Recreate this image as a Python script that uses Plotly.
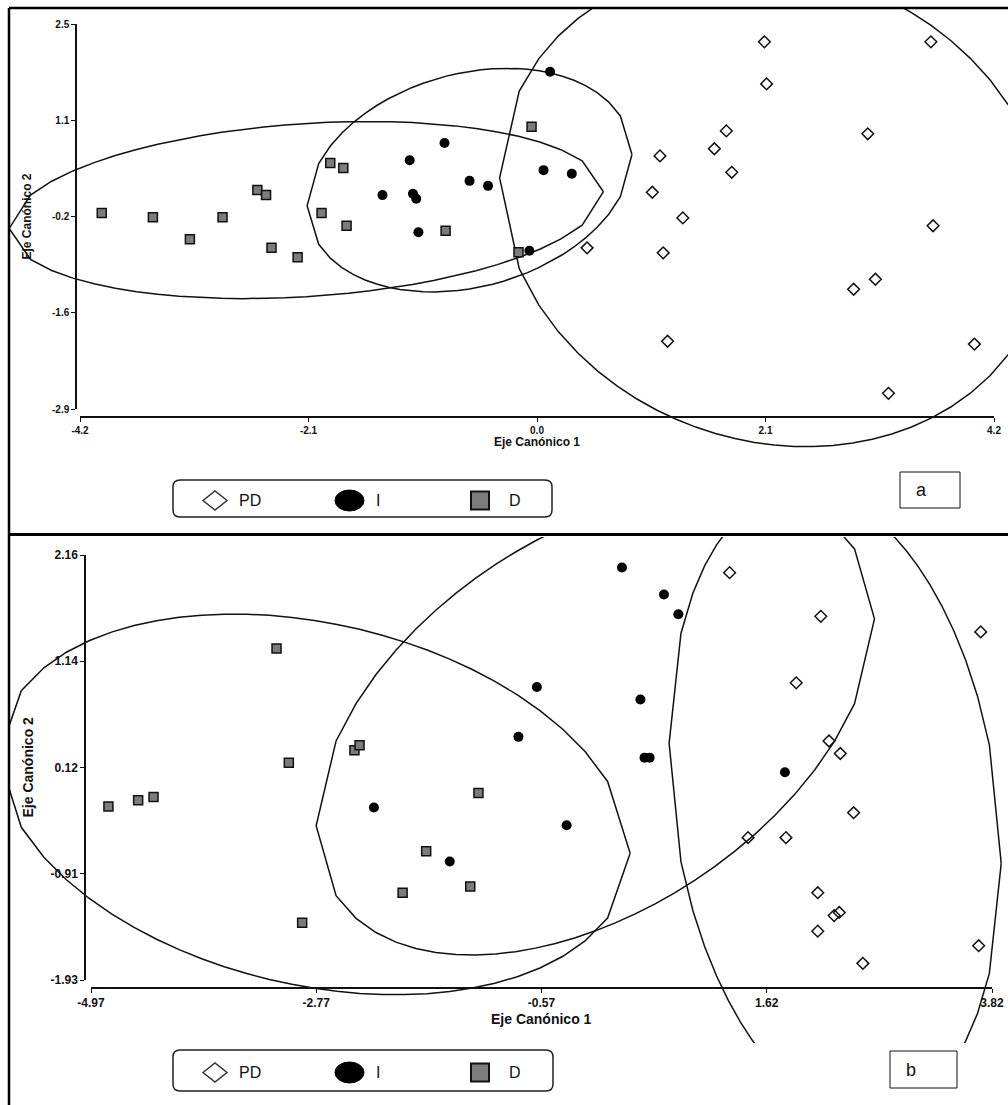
import numpy as np
import plotly.graph_objects as go

FIG_W, FIG_H = 1008, 1105
FONT = "Liberation Sans, Arial, sans-serif"
INK = "#111111"

GROUPS = ["PD", "I", "D"]
AXIS_TITLE_X = "Eje Canónico 1"
AXIS_TITLE_Y = "Eje Canónico 2"
PANEL_TAGS = ["a", "b"]

# ---------------- panel a: canonical scores ----------------
A_PD_X = [2.09, 3.62, 2.11, 1.74, 1.63, 1.13, 1.79, 3.04, 1.06, 1.34, 3.64, 0.46, 1.16, 3.11, 2.91, 1.20, 4.02, 3.23]
A_PD_Y = [2.25, 2.25, 1.66, 1.00, 0.75, 0.65, 0.42, 0.96, 0.14, -0.22, -0.33, -0.64, -0.71, -1.08, -1.22, -1.95, -1.99, -2.68]
A_I_X = [0.12, -0.85, -1.17, -1.42, -1.14, -1.11, -0.62, -0.45, -1.09, 0.06, 0.32, -0.07]
A_I_Y = [1.83, 0.83, 0.59, 0.10, 0.12, 0.05, 0.30, 0.23, -0.42, 0.45, 0.40, -0.68]
A_D_X = [-4.00, -3.53, -3.19, -2.89, -2.57, -2.49, -2.44, -2.20, -1.98, -1.90, -1.78, -1.75, -0.84, -0.05, -0.17]
A_D_Y = [-0.15, -0.21, -0.52, -0.21, 0.17, 0.10, -0.64, -0.77, -0.15, 0.55, 0.48, -0.33, -0.40, 1.06, -0.70]

# group ellipses: centre x, centre y, then two conjugate semi-diameters (dx1, dy1, dx2, dy2)
A_ELL_PD = [2.18, -0.05, 2.40, -1.41, -0.78, -3.07]
A_ELL_I = [-0.62, 0.31, 1.47, 0.62, 0.26, -1.44]
A_ELL_D = [-2.12, -0.11, 2.73, 0.28, 0.05, -1.21]

A_XTICKS = [-4.2, -2.1, 0.0, 2.1, 4.2]
A_XTICK_TEXT = ["-4.2", "-2.1", "0.0", "2.1", "4.2"]
A_YTICKS = [-2.9, -1.55, -0.2, 1.15, 2.5]
A_YTICK_TEXT = ["-2.9", "-1.6", "-0.2", "1.1", "2.5"]

# ---------------- panel b: canonical scores ----------------
B_PD_X = [1.26, 2.15, 1.91, 2.23, 2.34, 3.71, 2.47, 1.44, 1.81, 2.12, 2.28, 2.33, 2.12, 2.56, 3.69]
B_PD_Y = [1.99, 1.57, 0.93, 0.37, 0.25, 1.42, -0.32, -0.56, -0.56, -1.09, -1.31, -1.28, -1.46, -1.77, -1.60]
B_I_X = [0.21, 0.62, 0.76, -0.62, -0.80, 0.39, 0.43, 0.48, -2.21, -0.33, -1.47, 1.80]
B_I_Y = [2.04, 1.78, 1.59, 0.89, 0.41, 0.77, 0.21, 0.21, -0.27, -0.44, -0.79, 0.07]
B_D_X = [-3.16, -3.04, -4.80, -4.51, -4.36, -2.40, -2.35, -1.19, -1.70, -1.93, -1.27, -2.91]
B_D_Y = [1.26, 0.16, -0.26, -0.20, -0.17, 0.28, 0.33, -0.13, -0.69, -1.09, -1.03, -1.38]

B_ELL_PD = [2.29, -0.23, 1.59, 0.0, 0.31, -3.02]
B_ELL_I = [-0.05, 0.55, 2.44, 0.0, -1.21, -2.24]
B_ELL_D = [-2.79, -0.24, 3.08, -0.47, 0.0, -1.77]

B_XTICKS = [-4.97, -2.7725, -0.575, 1.6225, 3.82]
B_XTICK_TEXT = ["-4.97", "-2.77", "-0.57", "1.62", "3.82"]
B_YTICKS = [-1.93, -0.9075, 0.115, 1.1375, 2.16]
B_YTICK_TEXT = ["-1.93", "-0.91", "0.12", "1.14", "2.16"]


def fx(px):
    return px / FIG_W


def fy(py):
    return 1 - py / FIG_H


def ellipse_outline(params, n=28):
    """Closed polyline of an ellipse, sampled evenly along x (gives the
    characteristic pointed ends of the original plotting program)."""
    cx, cy, ax, ay, bx, by = params
    phi = np.arctan2(bx, ax)
    s = np.linspace(1.0, -1.0, n + 1)
    ang = np.arccos(s)
    t = np.concatenate([phi + ang, (phi - ang[::-1])[1:]])
    return cx + ax * np.cos(t) + bx * np.sin(t), cy + ay * np.cos(t) + by * np.sin(t)


def extend_range(v_lo, v_hi, p_lo, p_hi, q_lo, q_hi):
    """Axis range for pixel span q_lo..q_hi given that v_lo..v_hi sits at p_lo..p_hi."""
    k = (v_hi - v_lo) / (p_hi - p_lo)
    return [v_lo + (q_lo - p_lo) * k, v_lo + (q_hi - p_lo) * k]


def pt(px, py):
    return f"{fx(px):.5f},{fy(py):.5f}"


def rounded_rect(x0, y0, x1, y1, r):
    return (f"M{pt(x0 + r, y0)} L{pt(x1 - r, y0)} Q{pt(x1, y0)} {pt(x1, y0 + r)} "
            f"L{pt(x1, y1 - r)} Q{pt(x1, y1)} {pt(x1 - r, y1)} L{pt(x0 + r, y1)} "
            f"Q{pt(x0, y1)} {pt(x0, y1 - r)} L{pt(x0, y0 + r)} Q{pt(x0, y0)} {pt(x0 + r, y0)} Z")


PANELS = [
    dict(
        scores=[(A_PD_X, A_PD_Y), (A_I_X, A_I_Y), (A_D_X, A_D_Y)],
        ellipses=[A_ELL_PD, A_ELL_I, A_ELL_D],
        xticks=(A_XTICKS, A_XTICK_TEXT), yticks=(A_YTICKS, A_YTICK_TEXT),
        x_px=(80, 994), y_px=(409, 24), xline=417, yline=76,
        clip_x=(9, 1008), clip_y=(462, 8),
        tick_size=10, title_size=12, xtitle_y=442, ytitle_x=27,
        legend=(173, 480, 552, 517), tag_box=(900, 472, 960, 508),
    ),
    dict(
        scores=[(B_PD_X, B_PD_Y), (B_I_X, B_I_Y), (B_D_X, B_D_Y)],
        ellipses=[B_ELL_PD, B_ELL_I, B_ELL_D],
        xticks=(B_XTICKS, B_XTICK_TEXT), yticks=(B_YTICKS, B_YTICK_TEXT),
        x_px=(91, 992), y_px=(980, 555), xline=988, yline=85,
        clip_x=(9, 1008), clip_y=(1043, 537),
        tick_size=12, title_size=14, xtitle_y=1019, ytitle_x=27,
        legend=(173, 1050, 553, 1091), tag_box=(890, 1051, 957, 1088),
    ),
]

MARKERS = {
    "PD": dict(symbol="diamond-open", size=9, color=INK, line=dict(width=1.5, color=INK)),
    "I": dict(symbol="circle", size=10, color="#000000", line=dict(width=0)),
    "D": dict(symbol="square", size=9, color="#7c7c7c", line=dict(width=1.5, color=INK)),
}

fig = go.Figure()
layout_axes = {}
shapes = []
annotations = []

for i, p in enumerate(PANELS):
    vis_n, dat_n = 2 * i + 1, 2 * i + 2
    vx = "x" if vis_n == 1 else f"x{vis_n}"
    vy = "y" if vis_n == 1 else f"y{vis_n}"
    dx, dy = f"x{dat_n}", f"y{dat_n}"
    xr = [p["xticks"][0][0], p["xticks"][0][-1]]
    yr = [p["yticks"][0][0], p["yticks"][0][-1]]
    tick_font = dict(family=FONT, size=p["tick_size"], color=INK, weight="bold")

    # visible axes (offset from each other, as in the original layout)
    common = dict(showline=True, linecolor=INK, linewidth=1.5, ticks="outside", ticklen=4,
                  tickwidth=1, tickcolor=INK, showgrid=False, zeroline=False,
                  tickfont=tick_font, anchor="free", automargin=False, fixedrange=True)
    layout_axes["xaxis" if vis_n == 1 else f"xaxis{vis_n}"] = dict(
        common, domain=[fx(p["x_px"][0]), fx(p["x_px"][1])], range=xr,
        position=fy(p["xline"]), tickvals=p["xticks"][0], ticktext=p["xticks"][1])
    layout_axes["yaxis" if vis_n == 1 else f"yaxis{vis_n}"] = dict(
        common, domain=[fy(p["y_px"][0]), fy(p["y_px"][1])], range=yr,
        position=fx(p["yline"]), tickvals=p["yticks"][0], ticktext=p["yticks"][1])
    fig.add_trace(go.Scatter(x=[None], y=[None], xaxis=vx, yaxis=vy,
                             showlegend=False, hoverinfo="skip"))

    # hidden axes with identical scale spanning the whole panel (ellipses overflow the axes)
    hidden = dict(showline=False, showgrid=False, zeroline=False, showticklabels=False,
                  ticks="", automargin=False, fixedrange=True)
    layout_axes[f"xaxis{dat_n}"] = dict(
        hidden, anchor=dy, domain=[fx(p["clip_x"][0]), fx(p["clip_x"][1])],
        range=extend_range(xr[0], xr[1], p["x_px"][0], p["x_px"][1], *p["clip_x"]))
    layout_axes[f"yaxis{dat_n}"] = dict(
        hidden, anchor=dx, domain=[fy(p["clip_y"][0]), fy(p["clip_y"][1])],
        range=extend_range(yr[0], yr[1], p["y_px"][0], p["y_px"][1], *p["clip_y"]))

    for params in p["ellipses"]:
        ex, ey = ellipse_outline(params)
        fig.add_trace(go.Scatter(x=ex, y=ey, mode="lines", xaxis=dx, yaxis=dy,
                                 line=dict(color=INK, width=1.5), showlegend=False,
                                 hoverinfo="skip"))
    for g in ["PD", "D", "I"]:
        sx, sy = p["scores"][GROUPS.index(g)]
        fig.add_trace(go.Scatter(x=sx, y=sy, mode="markers", name=g, xaxis=dx, yaxis=dy,
                                 marker=MARKERS[g], showlegend=False, cliponaxis=False))

    # axis titles
    xmid = (p["x_px"][0] + p["x_px"][1]) / 2
    ymid = (p["y_px"][0] + p["y_px"][1]) / 2
    title_font = dict(family=FONT, size=p["title_size"], color=INK, weight="bold")
    annotations.append(dict(text=AXIS_TITLE_X, x=fx(xmid), y=fy(p["xtitle_y"]),
                            xref="paper", yref="paper", showarrow=False, font=title_font,
                            xanchor="center", yanchor="middle"))
    annotations.append(dict(text=AXIS_TITLE_Y, x=fx(p["ytitle_x"]), y=fy(ymid), textangle=-90,
                            xref="paper", yref="paper", showarrow=False, font=title_font,
                            xanchor="center", yanchor="middle"))

    # legend box
    lx0, ly0, lx1, ly1 = p["legend"]
    cy = (ly0 + ly1) / 2 + 2
    shapes.append(dict(type="path", path=rounded_rect(lx0, ly0, lx1, ly1, 7), xref="paper",
                       yref="paper", line=dict(color="#222222", width=1.5)))
    shapes.append(dict(type="path", xref="paper", yref="paper",
                       path=f"M{pt(203, cy)} L{pt(215, cy - 9.5)} L{pt(227, cy)} L{pt(215, cy + 9.5)} Z",
                       line=dict(color="#333333", width=1.5)))
    shapes.append(dict(type="circle", xref="paper", yref="paper", x0=fx(335), x1=fx(364),
                       y0=fy(cy - 10.5), y1=fy(cy + 10.5), fillcolor="#000000",
                       line=dict(color="#000000", width=1)))
    shapes.append(dict(type="rect", xref="paper", yref="paper", x0=fx(471), x1=fx(489),
                       y0=fy(cy - 9), y1=fy(cy + 9), fillcolor="#7c7c7c",
                       line=dict(color=INK, width=2)))
    for label, lxp in zip(GROUPS, [237, 374, 507]):
        annotations.append(dict(text=label, x=fx(lxp), y=fy(cy), xref="paper", yref="paper",
                                showarrow=False, xanchor="left", yanchor="middle",
                                font=dict(family=FONT, size=16, color=INK)))

    # panel tag
    tx0, ty0, tx1, ty1 = p["tag_box"]
    shapes.append(dict(type="rect", xref="paper", yref="paper", x0=fx(tx0), x1=fx(tx1),
                       y0=fy(ty1), y1=fy(ty0), line=dict(color=INK, width=1)))
    annotations.append(dict(text=PANEL_TAGS[i], x=fx(tx0 + 14), y=fy((ty0 + ty1) / 2),
                            xref="paper", yref="paper", showarrow=False, xanchor="left",
                            yanchor="middle", font=dict(family=FONT, size=18, color=INK)))

# panel frame lines
for x0, y0, x1, y1, w in [(9, 8, 1008, 8, 2.5), (9, 8, 9, 1105, 2.5), (9, 534.5, 1008, 534.5, 3)]:
    shapes.append(dict(type="line", xref="paper", yref="paper", x0=fx(x0), y0=fy(y0),
                       x1=fx(x1), y1=fy(y1), line=dict(color="#000000", width=w)))

fig.update_layout(
    width=FIG_W, height=FIG_H, template="none",
    margin=dict(l=0, r=0, t=0, b=0, pad=0),
    paper_bgcolor="white", plot_bgcolor="rgba(0,0,0,0)",
    showlegend=False, hovermode=False,
    font=dict(family=FONT, color=INK),
    shapes=shapes, annotations=annotations,
    **layout_axes,
)

fig.write_html("out.html")
